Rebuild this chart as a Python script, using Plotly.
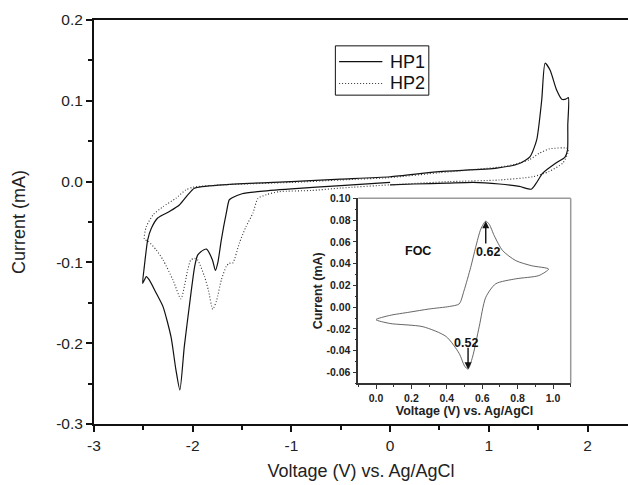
import plotly.graph_objects as go

# HP1 cyclic voltammogram (V vs. Ag/AgCl, mA)
hp1_v = [0.0, -0.5, -1.0, -1.34, -1.5, -1.6, -1.63, -1.66, -1.71, -1.745, -1.77,
         -1.80, -1.86, -1.92, -1.95, -1.98, -2.03, -2.085, -2.13, -2.17, -2.22,
         -2.30, -2.37, -2.44, -2.47, -2.507, -2.49, -2.456, -2.42, -2.355, -2.236,
         -2.135, -2.05, -1.983, -1.7, -1.0, -0.5, 0.0, 0.5, 1.08, 1.317, 1.418,
         1.485, 1.536, 1.57, 1.62, 1.688, 1.739, 1.78, 1.806, 1.80, 1.797, 1.77,
         1.68, 1.546, 1.48, 1.43, 1.31, 1.107, 0.84, 0.573, 0.24, 0.0]
hp1_i = [-0.001, -0.005, -0.009, -0.0124, -0.015, -0.020, -0.0227, -0.039, -0.072,
         -0.100, -0.110, -0.097, -0.0835, -0.087, -0.091, -0.105, -0.150, -0.204,
         -0.258, -0.233, -0.192, -0.155, -0.138, -0.1217, -0.1175, -0.126, -0.105,
         -0.072, -0.058, -0.045, -0.037, -0.029, -0.0165, -0.0082, -0.004, 0.0,
         0.003, 0.006, 0.0124, 0.0166, 0.0228, 0.031, 0.0516, 0.101, 0.1465, 0.138,
         0.113, 0.102, 0.102, 0.104, 0.070, 0.039, 0.030, 0.023, 0.0104, -0.002,
         -0.0094, -0.006, -0.003, -0.001, -0.002, -0.003, -0.004]

# HP2 cyclic voltammogram
hp2_v = [0.0, -0.5, -0.8, -1.12, -1.25, -1.34, -1.39, -1.46, -1.527, -1.595, -1.63,
         -1.66, -1.71, -1.76, -1.797, -1.84, -1.88, -1.95, -1.98, -2.02, -2.05,
         -2.12, -2.20, -2.30, -2.37, -2.45, -2.49, -2.47, -2.40, -2.30, -2.17,
         -2.07, -2.0, -1.7, -1.0, -0.5, 0.0, 0.5, 1.107, 1.24, 1.41, 1.51, 1.614,
         1.80, 1.80, 1.75, 1.61, 1.445, 1.107, 0.6, 0.0]
hp2_i = [-0.004, -0.008, -0.011, -0.0124, -0.016, -0.021, -0.039, -0.0557, -0.076,
         -0.101, -0.101, -0.105, -0.1217, -0.148, -0.158, -0.135, -0.1176, -0.097,
         -0.095, -0.097, -0.109, -0.145, -0.1217, -0.097, -0.0845, -0.074, -0.071,
         -0.0557, -0.041, -0.031, -0.0206, -0.0103, -0.007, -0.004, -0.001, 0.002,
         0.005, 0.011, 0.018, 0.0207, 0.027, 0.035, 0.0405, 0.041, 0.035, 0.023,
         0.0124, 0.006, 0.002, 0.0, -0.004]

# FOC (ferrocene) reference voltammogram for the inset
foc_v = [0.0, 0.078, 0.19, 0.30, 0.415, 0.47, 0.497, 0.535, 0.563, 0.592, 0.62,
         0.64, 0.668, 0.715, 0.79, 0.88, 0.975, 0.92, 0.79, 0.676, 0.62, 0.583,
         0.545, 0.52, 0.50, 0.47, 0.396, 0.265, 0.078, 0.0]
foc_i = [-0.0115, -0.0076, -0.0046, -0.0017, 0.0006, 0.003, 0.015, 0.0366, 0.055,
         0.0717, 0.079, 0.076, 0.0656, 0.052, 0.0427, 0.038, 0.035, 0.029, 0.026,
         0.0214, 0.009, -0.018, -0.046, -0.057, -0.054, -0.0426, -0.027, -0.018,
         -0.015, -0.0115]

# Peak potentials marked in the inset
peak_anodic_v, peak_anodic_i = 0.62, 0.079
peak_cathodic_v, peak_cathodic_i = 0.52, -0.057

series_names = ["HP1", "HP2"]

x_ticks = [-3, -2, -1, 0, 1, 2]
x_ticktext = ["-3", "-2", "-1", "0", "1", "2"]
y_ticks = [-0.3, -0.2, -0.1, 0.0, 0.1, 0.2]
y_ticktext = ["-0.3", "-0.2", "-0.1", "0.0", "0.1", "0.2"]

ix_ticks = [0.0, 0.2, 0.4, 0.6, 0.8, 1.0]
ix_ticktext = ["0.0", "0.2", "0.4", "0.6", "0.8", "1.0"]
iy_ticks = [-0.06, -0.04, -0.02, 0.0, 0.02, 0.04, 0.06, 0.08, 0.10]
iy_ticktext = ["-0.06", "-0.04", "-0.02", "0.00", "0.02", "0.04", "0.06", "0.08", "0.10"]

FONT = "Liberation Sans, Arial, sans-serif"
INK = "#111111"
TEXT = "#222222"
DOT = "1px,2px"

fig = go.Figure()

fig.add_trace(go.Scatter(x=hp1_v, y=hp1_i, mode="lines", name=series_names[0],
                         line=dict(color=INK, width=1.2, shape="spline", smoothing=0.6),
                         showlegend=False))
fig.add_trace(go.Scatter(x=hp2_v, y=hp2_i, mode="lines", name=series_names[1],
                         line=dict(color="#333333", width=1.1, dash=DOT, shape="spline", smoothing=0.6),
                         showlegend=False))
fig.add_trace(go.Scatter(x=foc_v, y=foc_i, mode="lines", name="FOC",
                         xaxis="x2", yaxis="y2",
                         line=dict(color="#555555", width=0.9, shape="spline", smoothing=0.7),
                         showlegend=False))

fig.update_layout(
    width=628, height=485, autosize=False,
    margin=dict(l=94, r=0, t=20, b=61),
    paper_bgcolor="white", plot_bgcolor="white",
    font=dict(family=FONT, color=TEXT),
    xaxis=dict(
        range=[-3, 2.41], domain=[0, 1],
        tickmode="array", tickvals=x_ticks, ticktext=x_ticktext,
        ticks="outside", ticklen=6, tickwidth=1.5, tickcolor=INK,
        minor=dict(tickmode="linear", tick0=-2.5, dtick=1, ticks="outside",
                   ticklen=4, tickwidth=1.5, tickcolor=INK),
        showline=True, linecolor=INK, linewidth=2, mirror=True,
        showgrid=False, zeroline=False,
        tickfont=dict(size=15.5),
        title=dict(text="Voltage (V) vs. Ag/AgCl", font=dict(size=18), standoff=12),
    ),
    yaxis=dict(
        range=[-0.3, 0.2], domain=[0, 1],
        tickmode="array", tickvals=y_ticks, ticktext=y_ticktext,
        ticks="outside", ticklen=6, tickwidth=1.5, tickcolor=INK,
        minor=dict(tickmode="linear", tick0=-0.25, dtick=0.1, ticks="outside",
                   ticklen=4, tickwidth=1.5, tickcolor=INK),
        showline=True, linecolor=INK, linewidth=2,
        showgrid=False, zeroline=False,
        tickfont=dict(size=15.5),
        title=dict(text="Current (mA)", font=dict(size=18), standoff=26),
    ),
    xaxis2=dict(
        anchor="y2", domain=[0.495, 0.8927], range=[-0.1, 1.1],
        tickmode="array", tickvals=ix_ticks, ticktext=ix_ticktext,
        ticks="outside", ticklen=4, tickwidth=1, tickcolor="#333333",
        minor=dict(tickmode="linear", tick0=0.1, dtick=0.2, ticks="outside",
                   ticklen=2, tickwidth=1, tickcolor="#333333"),
        showline=True, linecolor="#333333", linewidth=1.5,
        showgrid=False, zeroline=False,
        tickfont=dict(size=10.5, weight="bold", color=TEXT),
        title=dict(text="Voltage (V) vs. Ag/AgCl", standoff=2,
                   font=dict(size=12.5, weight="bold", color=TEXT)),
    ),
    yaxis2=dict(
        anchor="x2", domain=[0.1007, 0.5587], range=[-0.07, 0.10],
        tickmode="array", tickvals=iy_ticks, ticktext=iy_ticktext,
        ticks="outside", ticklen=4, tickwidth=1, tickcolor="#333333",
        minor=dict(tickmode="linear", tick0=-0.07, dtick=0.02, ticks="outside",
                   ticklen=2, tickwidth=1, tickcolor="#333333"),
        showline=True, linecolor="#333333", linewidth=1.5,
        showgrid=False, zeroline=False,
        tickfont=dict(size=10.5, weight="bold", color=TEXT),
        title=dict(text="Current (mA)", standoff=1,
                   font=dict(size=12.5, weight="bold", color=TEXT)),
    ),
)

# Inset frame: light top and right edges
fig.add_shape(type="line", xref="x2 domain", yref="y2 domain", x0=0, x1=1, y0=1, y1=1,
              line=dict(color="#9a9a9a", width=1.5))
fig.add_shape(type="line", xref="x2 domain", yref="y2 domain", x0=1, x1=1, y0=0, y1=1,
              line=dict(color="#9a9a9a", width=1.5))

# Peak arrows and labels in the inset
fig.add_annotation(xref="x2", yref="y2", axref="x2", ayref="y2",
                   x=peak_anodic_v, y=peak_anodic_i, ax=peak_anodic_v, ay=0.057,
                   text="", showarrow=True, arrowhead=2, arrowsize=1, arrowwidth=1.4,
                   arrowcolor="#111111")
fig.add_annotation(xref="x2", yref="y2", axref="x2", ayref="y2",
                   x=peak_cathodic_v, y=peak_cathodic_i, ax=peak_cathodic_v, ay=-0.036,
                   text="", showarrow=True, arrowhead=2, arrowsize=1, arrowwidth=1.4,
                   arrowcolor="#111111")
fig.add_annotation(xref="x2", yref="y2", x=0.632, y=0.051, showarrow=False,
                   text=f"{peak_anodic_v:.2f}", font=dict(size=12.5, weight="bold", color="#111111"))
fig.add_annotation(xref="x2", yref="y2", x=0.506, y=-0.033, showarrow=False,
                   text=f"{peak_cathodic_v:.2f}", font=dict(size=12.5, weight="bold", color="#111111"))
fig.add_annotation(xref="x2", yref="y2", x=0.235, y=0.052, showarrow=False,
                   text="FOC", font=dict(size=12.5, weight="bold", color="#111111"))

# Legend box for the two series
lx0, lx1 = 0.452, 0.627   # paper x
ly0, ly1 = 0.814, 0.936   # paper y
fig.add_shape(type="rect", xref="paper", yref="paper", x0=lx0, x1=lx1, y0=ly0, y1=ly1,
              line=dict(color=INK, width=1), fillcolor="white", layer="above")
legend_rows = [(0.897, dict(color=INK, width=1.2)),
               (0.843, dict(color="#333333", width=1.1, dash=DOT))]
for name, (ry, ln) in zip(series_names, legend_rows):
    fig.add_shape(type="line", xref="paper", yref="paper", x0=0.459, x1=0.540,
                  y0=ry, y1=ry, line=ln, layer="above")
    fig.add_annotation(xref="paper", yref="paper", x=0.551, y=ry, xanchor="left",
                       yanchor="middle", showarrow=False, text=name,
                       font=dict(size=18, color=INK))

fig.write_html("out.html")
